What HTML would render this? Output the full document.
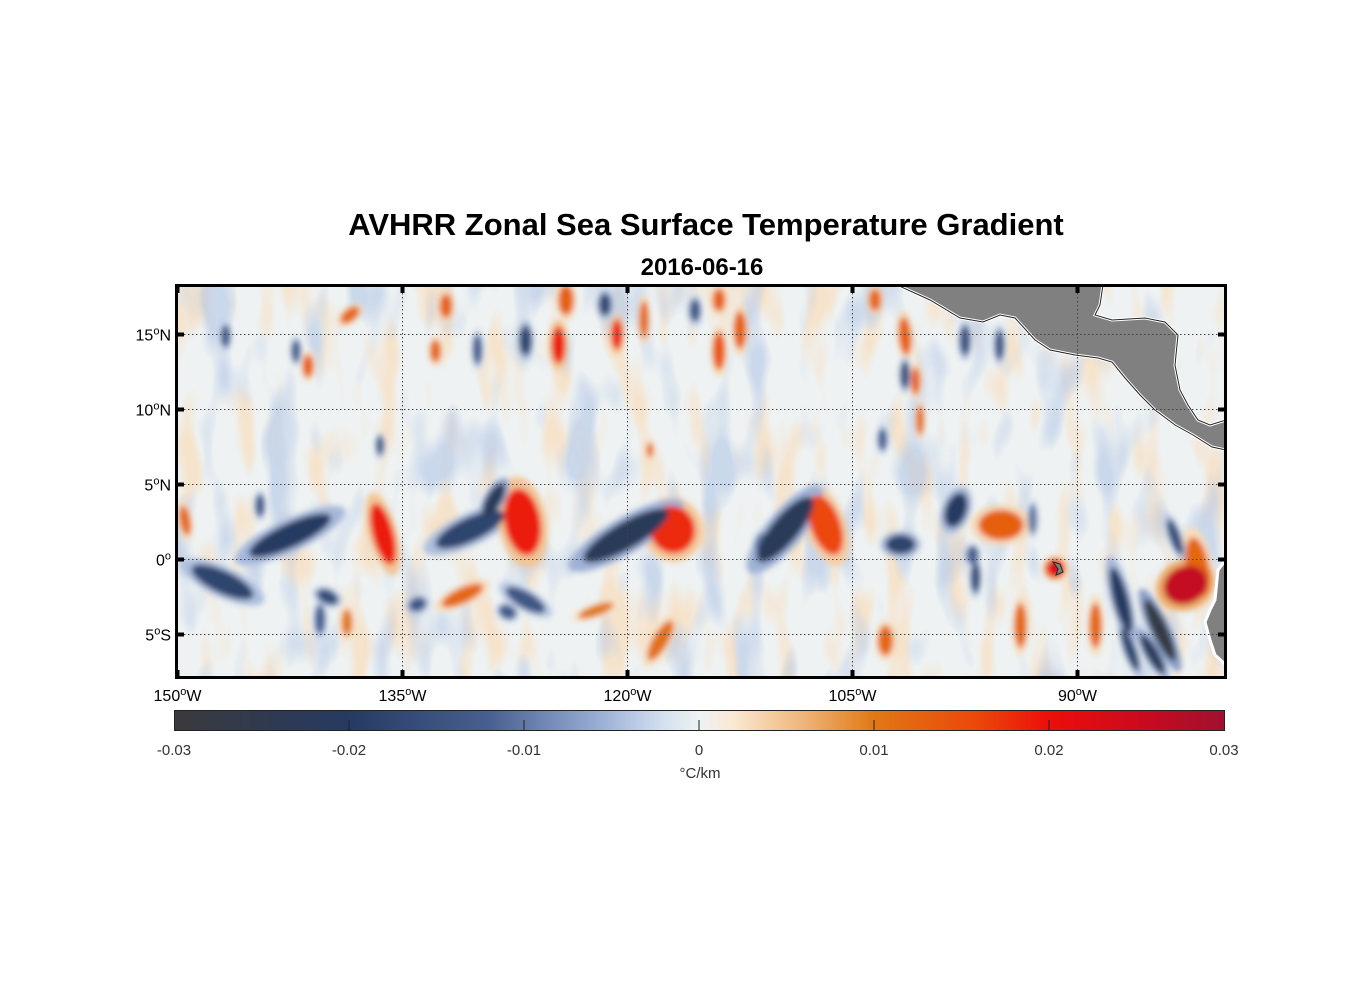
<!DOCTYPE html>
<html><head><meta charset="utf-8"><style>
body{margin:0;background:#fff;width:1356px;height:1000px;overflow:hidden;font-family:"Liberation Sans",sans-serif}
</style></head><body>
<svg id="chart" width="1356" height="1000" viewBox="0 0 1356 1000" xmlns="http://www.w3.org/2000/svg">
<defs>
<clipPath id="mapclip"><rect x="176" y="285" width="1050" height="393"/></clipPath>
<filter id="blur" x="-50%" y="-50%" width="200%" height="200%"><feGaussianBlur stdDeviation="3"/></filter>
<filter id="tex1" x="0" y="0" width="100%" height="100%">
<feTurbulence type="fractalNoise" baseFrequency="0.035 0.012" numOctaves="2" seed="3"/>
<feColorMatrix type="matrix" values="0 0 0 0 0.95  0 0 0 0 0.72  0 0 0 0 0.5  4.5 0 0 0 -2.3"/>
</filter>
<filter id="tex2" x="0" y="0" width="100%" height="100%">
<feTurbulence type="fractalNoise" baseFrequency="0.03 0.012" numOctaves="2" seed="11"/>
<feColorMatrix type="matrix" values="0 0 0 0 0.45  0 0 0 0 0.57  0 0 0 0 0.8  0 4.5 0 0 -2.3"/>
</filter>
<linearGradient id="cbgrad" x1="0" x2="1" y1="0" y2="0"></linearGradient>
</defs>
<text x="706" y="235" text-anchor="middle" font-size="31" font-weight="bold">AVHRR Zonal Sea Surface Temperature Gradient</text>
<text x="702" y="275" text-anchor="middle" font-size="24" font-weight="bold">2016-06-16</text>
<g id="map" clip-path="url(#mapclip)">
<rect x="176" y="285" width="1050" height="393" fill="#eef2f2"/>
<rect x="176" y="285" width="1050" height="393" filter="url(#tex1)" opacity="0.7"/>
<rect x="176" y="285" width="1050" height="393" filter="url(#tex2)" opacity="0.6"/>
<g id="blobs" filter="url(#blur)"></g>
<path d="M897,285 L930,300 L960,318 L983,322 L1000,315 L1015,318 L1035,340 L1050,350 L1075,355 L1098,358 L1112,362 L1125,378 L1140,395 L1155,410 L1175,425 L1193,435 L1212,447 L1226,450 L1226,420 L1210,425 L1198,420 L1188,405 L1180,390 L1175,365 L1178,335 L1165,322 L1145,318 L1112,320 L1095,315 L1100,305 L1103,285 Z" fill="#808080" stroke="#fff" stroke-width="3"/>
<path d="M897,285 L930,300 L960,318 L983,322 L1000,315 L1015,318 L1035,340 L1050,350 L1075,355 L1098,358 L1112,362 L1125,378 L1140,395 L1155,410 L1175,425 L1193,435 L1212,447 L1226,450 M1226,420 L1210,425 L1198,420 L1188,405 L1180,390 L1175,365 L1178,335 L1165,322 L1145,318 L1112,320 L1095,315 L1100,305 L1103,285" fill="none" stroke="#222" stroke-width="1"/>
<path d="M1226,560 L1218,570 L1215,600 L1210,610 L1205,622 L1210,640 L1215,655 L1226,665 Z" fill="#808080" stroke="#fff" stroke-width="3"/>
<path d="M1053,562 L1060,564 L1063,572 L1056,575 L1058,569 Z" fill="#808080" stroke="#222" stroke-width="1"/>
<g id="grid"></g>
</g>
<rect x="176.5" y="285.5" width="1049" height="392" fill="none" stroke="#000" stroke-width="3"/>
<g id="ticks"></g>
<g id="cbar"></g>
</svg>
<script>
const NS="http://www.w3.org/2000/svg";
const lonMin=-150.1, lonMax=-80.1, latMin=-7.9, latMax=18.3;
const lonTicks=[-150,-135,-120,-105,-90];
const lonTickLabels=["150","135","120","105","90"];
const latTicks=[15,10,5,0,-5];
const latTickLabels=["15","10","5","0","5"];
const latTickSuffix=["N","N","N","","S"];
const blobLon=[-142.5,-136.3,-147,-130.5,-128.9,-127,-131,-120.1,-117,-109.5,-106.8,-101.8,-98.1,-95.1,-91.5,-82.8,-84.5,-87.1,-88.8,-93.8,-102.8,-117.8,-126.8,-122.1,-149.5,-132.1,-124.1,-124.6,-120.7,-126.8,-121.5,-118.9,-113.9,-112.5,-113.9,-115.5,-101.5,-100.8,-103.5,-101.5,-97.5,-141.3,-138.5,-146.8,-142.1,-132.8,-100.5,-118.5,-136.5,-95.2,-85,-82,-86.5,-140,-134,-140.5,-144.5,-128,-111,-97,-83.5,-93,-130,-103,-96.8,-138.7];
const blobLat=[1.6,1.7,-1.5,2,4,2.5,-2.4,1.6,2,2,2.3,1,3.3,2.3,-0.6,-1.7,-4.7,-2.7,-4.4,-4.4,-5.4,-5.4,-2.7,-3.4,2.6,16.9,17.3,14.3,15,14.6,17,16,13.9,15.3,17.3,16.6,14.9,11.9,17.3,12.3,14.6,12.9,16.3,14.9,13.9,13.9,9.3,7.3,7.6,14.3,-6.3,-0.5,-6,-2.5,-3,-4,3.6,-3.5,1,0.3,1.5,2.7,14,8,-1.2,-4.2];
const blobVal=[-0.02,0.019,-0.018,-0.018,-0.022,0.019,0.012,-0.022,0.018,-0.022,0.016,-0.018,-0.02,0.013,0.022,0.026,-0.028,-0.02,0.012,0.012,0.012,0.011,-0.014,0.01,0.012,0.013,0.013,0.019,0.019,-0.018,-0.017,0.012,0.014,0.013,0.013,-0.014,0.013,0.013,0.012,-0.016,-0.015,0.013,0.012,-0.014,-0.012,0.012,0.012,0.012,-0.014,-0.015,-0.022,0.012,-0.018,-0.016,-0.014,-0.012,-0.014,-0.013,-0.01,-0.012,-0.016,-0.01,-0.013,-0.012,-0.017,0.01];
const blobW=[6,1.4,4.5,5,1,2.4,3,6.5,3,5.5,2,2,1.4,3,1.2,3,1,1,0.8,0.8,1,1,3,2.5,0.7,0.8,1,0.9,0.7,0.8,0.8,0.6,0.8,0.8,0.8,0.7,0.8,0.6,0.8,0.6,0.7,0.7,1.5,0.6,0.6,0.7,0.5,0.4,0.5,0.6,0.8,1.5,0.7,1.5,1.2,0.7,0.6,1.2,1,0.8,0.7,0.6,0.6,0.6,0.6,0.7];
const blobH=[1.6,4.2,1.5,1.6,2.5,4.5,1,1.8,3.2,1.8,4.2,1.3,2.4,2,1.2,2.5,4.5,4.5,3,3,2,3,1.1,0.7,2,1.6,2,2.5,2,2,1.5,2.5,2.5,2.5,1.5,1.5,2.5,1.8,1.5,1.8,2,1.5,0.8,1.5,1.5,1.5,2,1,1.3,2,3,4,3,0.9,0.9,2,1.5,0.9,1.5,1.2,2.5,2,2,1.5,2,1.8];
const blobRot=[-25,-15,25,-25,30,-10,-25,-30,-20,-50,-20,0,20,0,0,-25,-25,-15,0,0,0,30,30,-20,-10,0,0,0,0,0,0,0,0,0,0,0,-5,0,0,0,0,0,-40,0,0,0,0,0,0,0,-30,-10,-20,25,-20,0,0,25,0,0,-20,0,0,0,0,0];

const X=lon=>176+(lon-lonMin)/(lonMax-lonMin)*1050;
const Y=lat=>285+(latMax-lat)/(latMax-latMin)*393;
const sx=15, sy=15;
const cStops=[[-0.03,[58,58,60]],[-0.02,[38,58,98]],[-0.012,[72,96,145]],[-0.006,[150,170,210]],[-0.002,[212,225,240]],[0,[238,242,242]],[0.002,[250,232,210]],[0.006,[238,180,120]],[0.01,[224,120,20]],[0.016,[236,70,10]],[0.02,[236,14,10]],[0.025,[205,10,30]],[0.03,[160,16,48]]];
function cmap(v){
  v=Math.max(-0.03,Math.min(0.03,v));
  for(let i=0;i<cStops.length-1;i++){const a=cStops[i],b=cStops[i+1];
    if(v<=b[0]){const t=(v-a[0])/(b[0]-a[0]);return 'rgb('+a[1].map((c,k)=>Math.round(c+(b[1][k]-c)*t)).join(',')+')';}}
  return 'rgb(160,16,48)';
}
const blobs=document.getElementById('blobs');
const idx=blobVal.map((v,i)=>i).sort((a,b)=>Math.abs(blobVal[a])-Math.abs(blobVal[b]));
function ell(i,scale,vf){
  const e=document.createElementNS(NS,'ellipse');
  const cx=X(blobLon[i]),cy=Y(blobLat[i]);
  e.setAttribute('cx',cx);e.setAttribute('cy',cy);
  e.setAttribute('rx',blobW[i]*sx/2*scale);e.setAttribute('ry',blobH[i]*sy/2*scale);
  e.setAttribute('transform','rotate('+blobRot[i]+' '+cx+' '+cy+')');
  e.setAttribute('fill',cmap(blobVal[i]*vf));
  return e;
}
idx.forEach(i=>{const h=ell(i,1.35,0.25);


blobs.appendChild(h);});
idx.forEach(i=>{const e=ell(i,1,1);


blobs.appendChild(e);});
const grid=document.getElementById('grid');
lonTicks.forEach(l=>{if(l===-150)return;const ln=document.createElementNS(NS,'line');


ln.setAttribute('x1',X(l));ln.setAttribute('x2',X(l));ln.setAttribute('y1',285);ln.setAttribute('y2',678);
ln.setAttribute('stroke','#444');ln.setAttribute('stroke-width','1');ln.setAttribute('stroke-dasharray','1.5 2.5');grid.appendChild(ln);});
latTicks.forEach(l=>{const ln=document.createElementNS(NS,'line');


ln.setAttribute('x1',176);ln.setAttribute('x2',1226);ln.setAttribute('y1',Y(l));ln.setAttribute('y2',Y(l));
ln.setAttribute('stroke','#444');ln.setAttribute('stroke-width','1');ln.setAttribute('stroke-dasharray','1.5 2.5');grid.appendChild(ln);});
const tk=document.getElementById('ticks');
function line(x1,y1,x2,y2,w,c,name){const l=document.createElementNS(NS,'line');


l.setAttribute('x1',x1);l.setAttribute('y1',y1);l.setAttribute('x2',x2);l.setAttribute('y2',y2);l.setAttribute('stroke',c);l.setAttribute('stroke-width',w);return l;}
function lbl(x,y,anchor,main,suf){
  const t=document.createElementNS(NS,'text');
  t.setAttribute('x',x);t.setAttribute('y',y);t.setAttribute('text-anchor',anchor);t.setAttribute('font-size','16');
  t.appendChild(document.createTextNode(main));
  const o=document.createElementNS(NS,'tspan');o.setAttribute('dy','-6');o.setAttribute('font-size','11');o.textContent='o';t.appendChild(o);
  const s=document.createElementNS(NS,'tspan');s.setAttribute('dy','6');s.textContent=suf;t.appendChild(s);
  return t;
}
lonTicks.forEach((l,i)=>{const x=X(l);
tk.appendChild(line(x,285,x,293,4,'#000','x-tick-top'));
tk.appendChild(line(x,670,x,678,4,'#000','x-tick-bottom'));
const t=lbl(x,701,'middle',lonTickLabels[i],'W');


tk.appendChild(t);});
latTicks.forEach((l,i)=>{const y=Y(l);
tk.appendChild(line(176,y,184,y,4,'#000','y-tick-left'));
tk.appendChild(line(1218,y,1226,y,4,'#000','y-tick-right'));
const t=lbl(171,y+6,'end',latTickLabels[i],latTickSuffix[i]);


tk.appendChild(t);});
const cbTicks=[-0.03,-0.02,-0.01,0,0.01,0.02,0.03];
const cbLabels=["-0.03","-0.02","-0.01","0","0.01","0.02","0.03"];
const CX=v=>174+(v+0.03)/0.06*1050;
const g=document.getElementById('cbgrad');
for(let k=0;k<=60;k++){const v=-0.03+k*0.001;const s=document.createElementNS(NS,'stop');
s.setAttribute('offset',(k/60));s.setAttribute('stop-color',cmap(v));g.appendChild(s);}
const cb=document.getElementById('cbar');
const r=document.createElementNS(NS,'rect');


r.setAttribute('x',174.5);r.setAttribute('y',710.5);r.setAttribute('width',1050);r.setAttribute('height',20);
r.setAttribute('fill','url(#cbgrad)');r.setAttribute('stroke','#222');r.setAttribute('stroke-width','1');cb.appendChild(r);
cbTicks.forEach((v,i)=>{const x=CX(v);
if(i>0&&i<cbTicks.length-1)cb.appendChild(line(x,720,x,730,1,'#222','colorbar-tick'));
const t=document.createElementNS(NS,'text');


t.setAttribute('x',x);t.setAttribute('y',755);t.setAttribute('text-anchor','middle');t.setAttribute('font-size','15');t.setAttribute('fill','#333');
t.textContent=cbLabels[i];cb.appendChild(t);});
const u=document.createElementNS(NS,'text');


u.setAttribute('x',700);u.setAttribute('y',778);u.setAttribute('text-anchor','middle');u.setAttribute('font-size','15');u.setAttribute('fill','#333');
u.textContent='°C/km';cb.appendChild(u);
</script>
</body></html>
